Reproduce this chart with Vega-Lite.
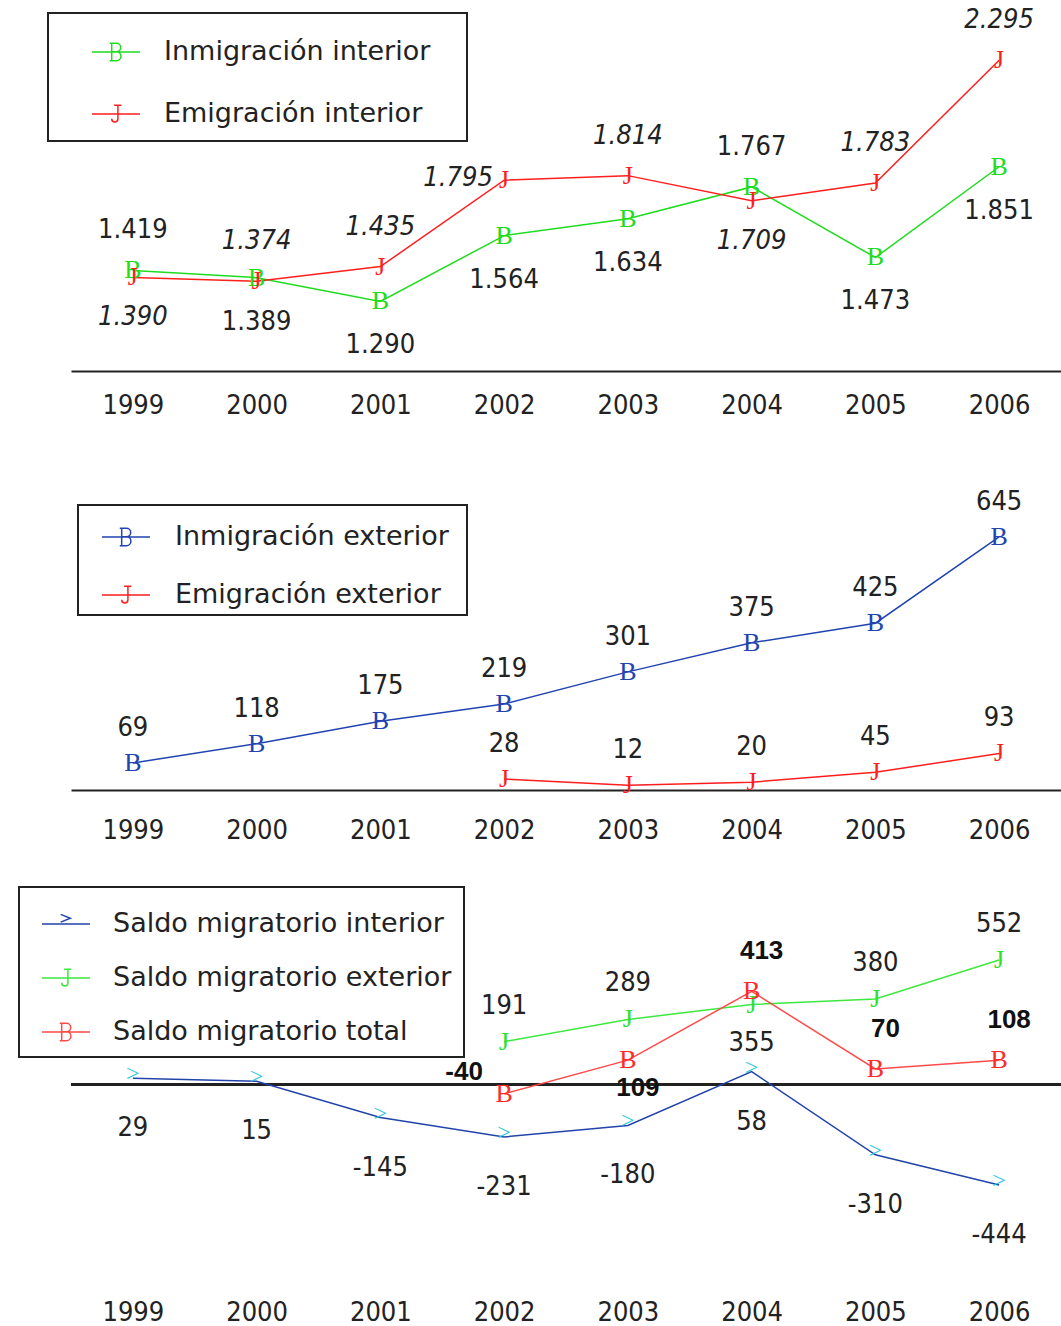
{
  "$schema": "https://vega.github.io/schema/vega-lite/v6.json",
  "background": "white",
  "padding": {"left": 18, "top": 6, "right": 0, "bottom": 0},
  "bounds": "flush",
  "spacing": 105,
  "datasets": {
    "interior": [
      {"year": "1999", "series": "Inmigración interior", "value": 1419},
      {"year": "2000", "series": "Inmigración interior", "value": 1389},
      {"year": "2001", "series": "Inmigración interior", "value": 1290},
      {"year": "2002", "series": "Inmigración interior", "value": 1564},
      {"year": "2003", "series": "Inmigración interior", "value": 1634},
      {"year": "2004", "series": "Inmigración interior", "value": 1767},
      {"year": "2005", "series": "Inmigración interior", "value": 1473},
      {"year": "2006", "series": "Inmigración interior", "value": 1851},
      {"year": "1999", "series": "Emigración interior", "value": 1390},
      {"year": "2000", "series": "Emigración interior", "value": 1374},
      {"year": "2001", "series": "Emigración interior", "value": 1435},
      {"year": "2002", "series": "Emigración interior", "value": 1795},
      {"year": "2003", "series": "Emigración interior", "value": 1814},
      {"year": "2004", "series": "Emigración interior", "value": 1709},
      {"year": "2005", "series": "Emigración interior", "value": 1783},
      {"year": "2006", "series": "Emigración interior", "value": 2295}
    ],
    "exterior": [
      {"year": "1999", "series": "Inmigración exterior", "value": 69},
      {"year": "2000", "series": "Inmigración exterior", "value": 118},
      {"year": "2001", "series": "Inmigración exterior", "value": 175},
      {"year": "2002", "series": "Inmigración exterior", "value": 219},
      {"year": "2003", "series": "Inmigración exterior", "value": 301},
      {"year": "2004", "series": "Inmigración exterior", "value": 375},
      {"year": "2005", "series": "Inmigración exterior", "value": 425},
      {"year": "2006", "series": "Inmigración exterior", "value": 645},
      {"year": "2002", "series": "Emigración exterior", "value": 28},
      {"year": "2003", "series": "Emigración exterior", "value": 12},
      {"year": "2004", "series": "Emigración exterior", "value": 20},
      {"year": "2005", "series": "Emigración exterior", "value": 45},
      {"year": "2006", "series": "Emigración exterior", "value": 93}
    ],
    "saldo": [
      {"year": "1999", "series": "Saldo migratorio interior", "value": 29},
      {"year": "2000", "series": "Saldo migratorio interior", "value": 15},
      {"year": "2001", "series": "Saldo migratorio interior", "value": -145},
      {"year": "2002", "series": "Saldo migratorio interior", "value": -231},
      {"year": "2003", "series": "Saldo migratorio interior", "value": -180},
      {"year": "2004", "series": "Saldo migratorio interior", "value": 58},
      {"year": "2005", "series": "Saldo migratorio interior", "value": -310},
      {"year": "2006", "series": "Saldo migratorio interior", "value": -444},
      {"year": "2002", "series": "Saldo migratorio exterior", "value": 191},
      {"year": "2003", "series": "Saldo migratorio exterior", "value": 289},
      {"year": "2004", "series": "Saldo migratorio exterior", "value": 355},
      {"year": "2005", "series": "Saldo migratorio exterior", "value": 380},
      {"year": "2006", "series": "Saldo migratorio exterior", "value": 552},
      {"year": "2002", "series": "Saldo migratorio total", "value": -40},
      {"year": "2003", "series": "Saldo migratorio total", "value": 109},
      {"year": "2004", "series": "Saldo migratorio total", "value": 413},
      {"year": "2005", "series": "Saldo migratorio total", "value": 70},
      {"year": "2006", "series": "Saldo migratorio total", "value": 108}
    ]
  },
  "config": {
    "view": {"stroke": null},
    "locale": {"number": {"decimal": ",", "thousands": ".", "grouping": [3], "currency": ["", " €"], "minus": "-"}}
  },
  "resolve": {"scale": {"color": "independent"}, "legend": {"color": "independent"}},
  "vconcat": [
    {
      "width": 990,
      "height": 360,
      "data": {"name": "interior"},
      "encoding": {
        "x": {"field": "year", "type": "ordinal", "scale": {"type": "point", "padding": 0.5, "domain": ["1999", "2000", "2001", "2002", "2003", "2004", "2005", "2006"]},
          "axis": {"title": null, "labelAngle": 0, "ticks": false, "tickSize": 0, "domain": true, "domainColor": "#222", "domainWidth": 2, "grid": false, "labelFont": "DejaVu Sans Condensed", "labelFontSize": 27, "labelColor": "#222", "labelPadding": 21}},
        "y": {"field": "value", "type": "quantitative", "scale": {"domain": [1000, 2500], "nice": false, "zero": false}, "axis": null}
      },
      "layer": [
        {
          "mark": {"type": "line", "strokeWidth": 1.5},
          "encoding": {
            "color": {"field": "series", "type": "nominal",
              "scale": {"domain": ["Inmigración interior", "Emigración interior"], "range": ["#1edc1e", "#ff1e1e"]},
              "legend": {"orient": "none", "direction": "vertical", "legendX": -23, "legendY": 2,
                "title": "\u2800", "titleOrient": "right", "titleFontSize": 10, "titleColor": "transparent", "titlePadding": 16,
                "strokeColor": "#222", "fillColor": "white", "padding": 14, "rowPadding": 24,
                "symbolSize": 2304, "symbolStrokeWidth": 1.5, "symbolOffset": 29, "labelOffset": 23,
                "labelFont": "DejaVu Sans", "labelFontSize": 27, "labelColor": "#222", "labelLimit": 700,
                "encode": {
                  "legend": {"update": {"strokeWidth": {"value": 2}}},
                  "symbols": {"update": {"fill": {"value": "transparent"}, "shape": {"signal": "datum.value === 'Inmigración interior' ? 'M-1,0H1M-0.26,-0.36H0.02A0.17,0.17 0 0 1 0.02,-0.01H-0.18M0.02,-0.01A0.185,0.185 0 0 1 0.02,0.36H-0.26M-0.18,-0.36V0.36' : 'M-1,0H1M-0.08,-0.36H0.22M0.08,-0.36V0.2A0.13,0.13 0 0 1 -0.18,0.2'"}}}
                }
              }
            }
          }
        },
        {
          "transform": [{"filter": "datum.series === 'Inmigración interior'"}],
          "mark": {"type": "text", "text": "B", "font": "Liberation Serif", "fontSize": 26, "color": "#1edc1e", "align": "center", "baseline": "middle"}
        },
        {
          "transform": [{"filter": "datum.series === 'Emigración interior'"}],
          "mark": {"type": "text", "text": "J", "font": "Liberation Serif", "fontSize": 26, "color": "#ff1e1e", "align": "center", "baseline": "middle"}
        },
        {
          "transform": [{"filter": "datum.series === 'Inmigración interior' && (datum.year === '1999' || datum.year === '2004')"}],
          "mark": {"type": "text", "font": "DejaVu Sans Condensed", "fontSize": 27, "color": "#222", "align": "center", "baseline": "middle", "dy": -40},
          "encoding": {"text": {"field": "value", "type": "quantitative", "format": ",d"}}
        },
        {
          "transform": [{"filter": "datum.series === 'Inmigración interior' && datum.year !== '1999' && datum.year !== '2004'"}],
          "mark": {"type": "text", "font": "DejaVu Sans Condensed", "fontSize": 27, "color": "#222", "align": "center", "baseline": "middle", "dy": 44},
          "encoding": {"text": {"field": "value", "type": "quantitative", "format": ",d"}}
        },
        {
          "transform": [{"filter": "datum.series === 'Emigración interior' && indexof(['2000', '2001', '2003', '2005', '2006'], datum.year) >= 0"}],
          "mark": {"type": "text", "font": "DejaVu Sans Condensed", "fontSize": 27, "fontStyle": "italic", "color": "#222", "align": "center", "baseline": "middle", "dy": -40},
          "encoding": {"text": {"field": "value", "type": "quantitative", "format": ",d"}}
        },
        {
          "transform": [{"filter": "datum.series === 'Emigración interior' && (datum.year === '1999' || datum.year === '2004')"}],
          "mark": {"type": "text", "font": "DejaVu Sans Condensed", "fontSize": 27, "fontStyle": "italic", "color": "#222", "align": "center", "baseline": "middle", "dy": 40},
          "encoding": {"text": {"field": "value", "type": "quantitative", "format": ",d"}}
        },
        {
          "transform": [{"filter": "datum.series === 'Emigración interior' && datum.year === '2002'"}],
          "mark": {"type": "text", "font": "DejaVu Sans Condensed", "fontSize": 27, "fontStyle": "italic", "color": "#222", "align": "center", "baseline": "middle", "dx": -46, "dy": -2},
          "encoding": {"text": {"field": "value", "type": "quantitative", "format": ",d"}}
        }
      ]
    },
    {
      "width": 990,
      "height": 314,
      "data": {"name": "exterior"},
      "encoding": {
        "x": {"field": "year", "type": "ordinal", "scale": {"type": "point", "padding": 0.5, "domain": ["1999", "2000", "2001", "2002", "2003", "2004", "2005", "2006"]},
          "axis": {"title": null, "labelAngle": 0, "ticks": false, "tickSize": 0, "domain": true, "domainColor": "#222", "domainWidth": 2, "grid": false, "labelFont": "DejaVu Sans Condensed", "labelFontSize": 27, "labelColor": "#222", "labelPadding": 27}},
        "y": {"field": "value", "type": "quantitative", "scale": {"domain": [0, 800], "nice": false}, "axis": null}
      },
      "layer": [
        {
          "mark": {"type": "line", "strokeWidth": 1.5},
          "encoding": {
            "color": {"field": "series", "type": "nominal",
              "scale": {"domain": ["Inmigración exterior", "Emigración exterior"], "range": ["#2244b0", "#ff1e1e"]},
              "legend": {"orient": "none", "direction": "vertical", "legendX": 7, "legendY": 29,
                "title": "\u2800", "titleOrient": "right", "titleFontSize": 10, "titleColor": "transparent", "titlePadding": 4,
                "strokeColor": "#222", "fillColor": "white", "padding": 7, "rowPadding": 20,
                "symbolSize": 2304, "symbolStrokeWidth": 1.5, "symbolOffset": 16, "labelOffset": 24,
                "labelFont": "DejaVu Sans", "labelFontSize": 27, "labelColor": "#222", "labelLimit": 700,
                "encode": {
                  "legend": {"update": {"strokeWidth": {"value": 2}}},
                  "symbols": {"update": {"fill": {"value": "transparent"}, "shape": {"signal": "datum.value === 'Inmigración exterior' ? 'M-1,0H1M-0.26,-0.36H0.02A0.17,0.17 0 0 1 0.02,-0.01H-0.18M0.02,-0.01A0.185,0.185 0 0 1 0.02,0.36H-0.26M-0.18,-0.36V0.36' : 'M-1,0H1M-0.08,-0.36H0.22M0.08,-0.36V0.2A0.13,0.13 0 0 1 -0.18,0.2'"}}}
                }
              }
            }
          }
        },
        {
          "transform": [{"filter": "datum.series === 'Inmigración exterior'"}],
          "mark": {"type": "text", "text": "B", "font": "Liberation Serif", "fontSize": 26, "color": "#2244b0", "align": "center", "baseline": "middle"}
        },
        {
          "transform": [{"filter": "datum.series === 'Emigración exterior'"}],
          "mark": {"type": "text", "text": "J", "font": "Liberation Serif", "fontSize": 26, "color": "#ff1e1e", "align": "center", "baseline": "middle"}
        },
        {
          "mark": {"type": "text", "font": "DejaVu Sans Condensed", "fontSize": 27, "color": "#222", "align": "center", "baseline": "middle", "dy": -35},
          "encoding": {"text": {"field": "value", "type": "quantitative", "format": ",d"}}
        }
      ]
    },
    {
      "width": 990,
      "height": 375,
      "data": {"name": "saldo"},
      "encoding": {
        "x": {"field": "year", "type": "ordinal", "scale": {"type": "point", "padding": 0.5, "domain": ["1999", "2000", "2001", "2002", "2003", "2004", "2005", "2006"]},
          "axis": {"title": null, "labelAngle": 0, "ticks": false, "tickSize": 0, "domain": false, "grid": false, "labelFont": "DejaVu Sans Condensed", "labelFontSize": 27, "labelColor": "#222", "labelPadding": 29}},
        "y": {"field": "value", "type": "quantitative", "scale": {"domain": [-820, 840], "nice": false, "zero": false}, "axis": null}
      },
      "layer": [
        {
          "mark": {"type": "rule", "color": "#222", "strokeWidth": 2},
          "encoding": {"y": {"datum": 0}, "x": {"value": 0}, "x2": {"value": 990}}
        },
        {
          "mark": {"type": "line", "strokeWidth": 1.5},
          "encoding": {
            "color": {"field": "series", "type": "nominal",
              "scale": {"domain": ["Saldo migratorio interior", "Saldo migratorio exterior", "Saldo migratorio total"], "range": ["#2244aa", "#3ee83e", "#ff4a4a"]},
              "legend": {"orient": "none", "direction": "vertical", "legendX": -52, "legendY": -8,
                "title": "\u2800", "titleOrient": "right", "titleFontSize": 1, "titleColor": "transparent", "titlePadding": 0,
                "strokeColor": "#222", "fillColor": "white", "padding": 12, "rowPadding": 16,
                "symbolSize": 2304, "symbolStrokeWidth": 1.5, "symbolOffset": 10, "labelOffset": 22,
                "labelFont": "DejaVu Sans", "labelFontSize": 27, "labelColor": "#222", "labelLimit": 700,
                "encode": {
                  "legend": {"update": {"strokeWidth": {"value": 2}}},
                  "symbols": {"update": {"fill": {"value": "transparent"}, "shape": {"signal": "datum.value === 'Saldo migratorio total' ? 'M-1,0H1M-0.26,-0.36H0.02A0.17,0.17 0 0 1 0.02,-0.01H-0.18M0.02,-0.01A0.185,0.185 0 0 1 0.02,0.36H-0.26M-0.18,-0.36V0.36' : datum.value === 'Saldo migratorio exterior' ? 'M-1,0H1M-0.08,-0.36H0.22M0.08,-0.36V0.2A0.13,0.13 0 0 1 -0.18,0.2' : 'M-1,0H1M-0.22,-0.4L0.18,-0.24L-0.22,-0.08'"}}}
                }
              }
            }
          }
        },
        {
          "transform": [{"filter": "datum.series === 'Saldo migratorio interior'"}],
          "mark": {"type": "text", "text": ">", "font": "Liberation Serif", "fontSize": 24, "color": "#1ec8d8", "align": "center", "baseline": "middle", "dy": -4}
        },
        {
          "transform": [{"filter": "datum.series === 'Saldo migratorio exterior'"}],
          "mark": {"type": "text", "text": "J", "font": "Liberation Serif", "fontSize": 26, "color": "#2ee02e", "align": "center", "baseline": "middle"}
        },
        {
          "transform": [{"filter": "datum.series === 'Saldo migratorio total'"}],
          "mark": {"type": "text", "text": "B", "font": "Liberation Serif", "fontSize": 26, "color": "#ff2a2a", "align": "center", "baseline": "middle"}
        },
        {
          "transform": [{"filter": "datum.series === 'Saldo migratorio interior'"}],
          "mark": {"type": "text", "font": "DejaVu Sans Condensed", "fontSize": 27, "color": "#222", "align": "center", "baseline": "middle", "dy": 50},
          "encoding": {"text": {"field": "value", "type": "quantitative", "format": "d"}}
        },
        {
          "transform": [{"filter": "datum.series === 'Saldo migratorio exterior' && datum.year !== '2004'"}],
          "mark": {"type": "text", "font": "DejaVu Sans Condensed", "fontSize": 27, "color": "#222", "align": "center", "baseline": "middle", "dy": -36},
          "encoding": {"text": {"field": "value", "type": "quantitative", "format": "d"}}
        },
        {
          "transform": [{"filter": "datum.series === 'Saldo migratorio exterior' && datum.year === '2004'"}],
          "mark": {"type": "text", "font": "DejaVu Sans Condensed", "fontSize": 27, "color": "#222", "align": "center", "baseline": "middle", "dy": 38},
          "encoding": {"text": {"field": "value", "type": "quantitative", "format": "d"}}
        },
        {
          "transform": [{"filter": "datum.series === 'Saldo migratorio total' && datum.year === '2002'"}],
          "mark": {"type": "text", "font": "Liberation Sans", "fontWeight": "bold", "fontSize": 26, "color": "#111", "align": "center", "baseline": "middle", "dx": -40, "dy": -22},
          "encoding": {"text": {"field": "value", "type": "quantitative", "format": "d"}}
        },
        {
          "transform": [{"filter": "datum.series === 'Saldo migratorio total' && datum.year === '2003'"}],
          "mark": {"type": "text", "font": "Liberation Sans", "fontWeight": "bold", "fontSize": 26, "color": "#111", "align": "center", "baseline": "middle", "dx": 10, "dy": 28},
          "encoding": {"text": {"field": "value", "type": "quantitative", "format": "d"}}
        },
        {
          "transform": [{"filter": "datum.series === 'Saldo migratorio total' && datum.year > '2003'"}],
          "mark": {"type": "text", "font": "Liberation Sans", "fontWeight": "bold", "fontSize": 26, "color": "#111", "align": "center", "baseline": "middle", "dx": 10, "dy": -40},
          "encoding": {"text": {"field": "value", "type": "quantitative", "format": "d"}}
        }
      ]
    }
  ]
}
